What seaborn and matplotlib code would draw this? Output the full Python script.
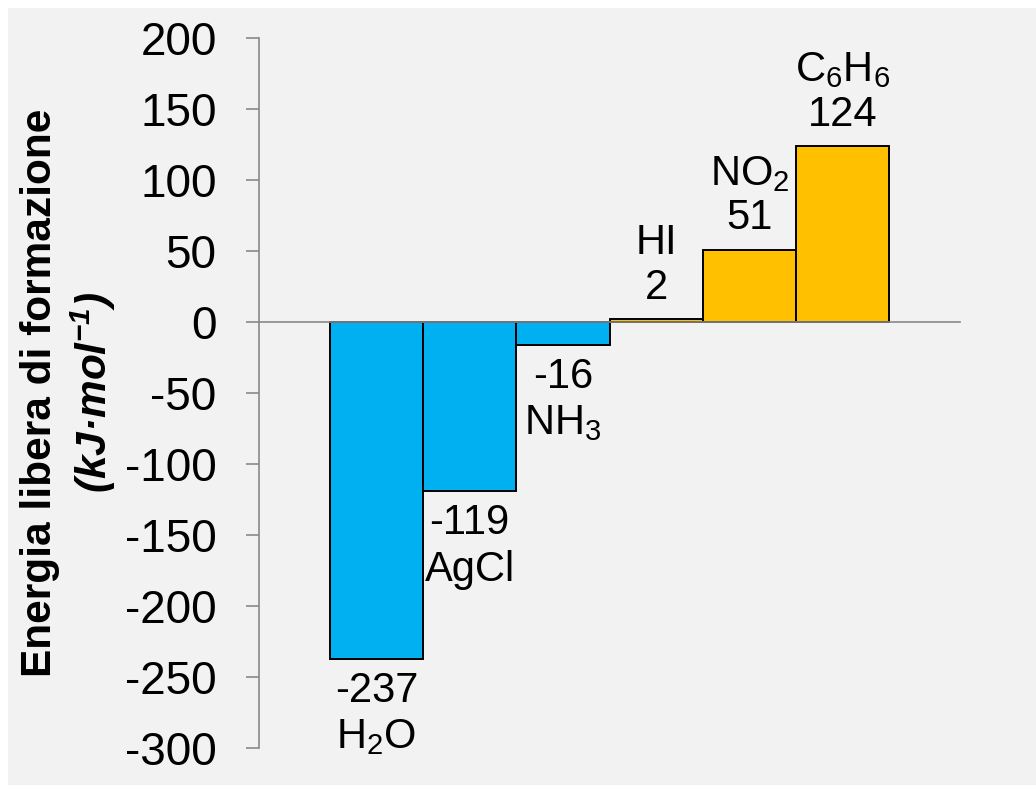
import matplotlib
matplotlib.use("Agg")
import matplotlib.pyplot as plt
import seaborn as sns
import pandas as pd
from matplotlib.patches import Rectangle

# data
compounds = ["H2O", "AgCl", "NH3", "HI", "NO2", "C6H6"]
formula_labels = ["H$_2$O", "AgCl", "NH$_3$", "HI", "NO$_2$", "C$_6$H$_6$"]
energy = [-237, -119, -16, 2, 51, 124]
bar_colors = ["#00B0F0", "#00B0F0", "#00B0F0", "#FFC000", "#FFC000", "#FFC000"]
yticks = [200, 150, 100, 50, 0, -50, -100, -150, -200, -250, -300]

df = pd.DataFrame({"compound": compounds, "energy": energy})

sns.set_theme(style="white")
plt.rcParams["font.family"] = ["Liberation Sans", "DejaVu Sans"]
plt.rcParams["mathtext.default"] = "regular"
plt.rcParams["axes.unicode_minus"] = False
plt.rcParams["text.color"] = "black"

axis_gray = "#898989"

fig = plt.figure(figsize=(10.36, 7.85), dpi=100)
fig.patch.set_facecolor("#F2F2F2")
# thin white strips at top and left edge
fig.add_artist(Rectangle((0, 0), 8 / 1036, 1, transform=fig.transFigure,
                         facecolor="white", edgecolor="none", zorder=-1))
fig.add_artist(Rectangle((0, 1 - 8 / 785), 1, 8 / 785, transform=fig.transFigure,
                         facecolor="white", edgecolor="none", zorder=-1))

ax = fig.add_axes([259 / 1036, 1 - 748 / 785, (960 - 259) / 1036, (748 - 38) / 785])
ax.set_facecolor("none")

sns.barplot(data=df, x="compound", y="energy", hue="compound", order=compounds,
            palette=bar_colors, saturation=1, legend=False, width=1.0,
            edgecolor="black", linewidth=1.4, ax=ax)

ax.set_xlim(-1.26, 6.26)
ax.set_ylim(-300, 200)
ax.set_yticks(yticks)
ax.set_yticklabels([str(t) for t in yticks], fontsize=33, color="black")
ax.set_xticks([])
ax.set_xlabel("")
ax.set_ylabel("")

ax.tick_params(axis="y", direction="out", length=9.5, width=1.2, color=axis_gray,
               pad=21, left=True)

for side in ["top", "right"]:
    ax.spines[side].set_visible(False)
ax.spines["left"].set_color(axis_gray)
ax.spines["left"].set_linewidth(1.2)
ax.spines["bottom"].set_position(("data", 0))
ax.spines["bottom"].set_color(axis_gray)
ax.spines["bottom"].set_linewidth(1.2)

# value + formula labels
for i, (val, lab) in enumerate(zip(energy, formula_labels)):
    if val < 0:
        ax.annotate(f"{val}\n{lab}", xy=(i, val), xytext=(0, -9),
                    textcoords="offset points", ha="center", va="top",
                    fontsize=30, linespacing=1.2, color="black")
    else:
        ax.annotate(f"{lab}\n{val}", xy=(i, val), xytext=(0, 8),
                    textcoords="offset points", ha="center", va="bottom",
                    fontsize=30, linespacing=1.15, color="black")

# y-axis title in two lines
fig.text(40 / 1036, 1 - 393 / 785, "Energia libera di formazione", rotation=90,
         ha="center", va="center", fontsize=30.5, fontweight="bold", color="black")
fig.text(93 / 1036, 1 - 393 / 785, "(kJ·mol$^{-1}$)", rotation=90,
         ha="center", va="center", fontsize=30.5, fontweight="bold", style="italic",
         color="black")

fig.savefig("out.png", dpi=100, facecolor=fig.get_facecolor())
